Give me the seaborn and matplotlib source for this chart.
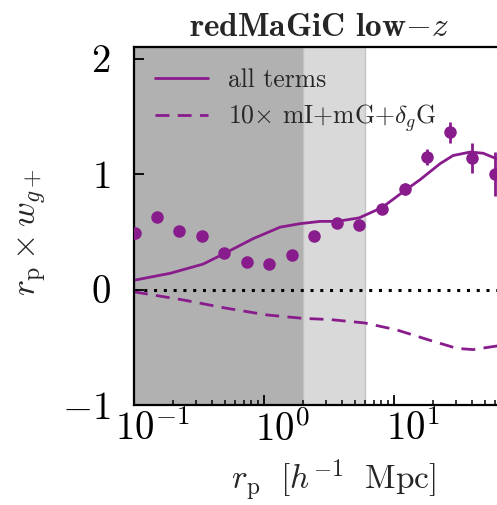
import seaborn as sns
import matplotlib.pyplot as plt
import matplotlib.transforms as mtransforms
import pandas as pd
import numpy as np

# Measured r_p * w_g+ (points with error bars)
rp_data = [0.102, 0.150, 0.222, 0.333, 0.492, 0.740, 1.09, 1.64, 2.42,
           3.64, 5.38, 8.09, 12.2, 17.9, 27.0, 39.8, 59.8]
w_data = [0.49, 0.63, 0.51, 0.46, 0.32, 0.24, 0.22, 0.30, 0.46,
          0.58, 0.56, 0.70, 0.87, 1.15, 1.36, 1.14, 1.00]
w_err = [0.03, 0.03, 0.03, 0.03, 0.03, 0.03, 0.03, 0.03, 0.03,
         0.03, 0.03, 0.04, 0.05, 0.07, 0.09, 0.13, 0.19]

# Model: all terms
rp_model = [0.1, 0.189, 0.34, 0.492, 0.823, 1.33, 1.89, 2.70, 3.64,
            5.38, 8.09, 12.2, 15.8, 22.6, 28.4, 38.4, 48.4, 62.0, 70.0]
w_all = [0.08, 0.14, 0.22, 0.31, 0.44, 0.54, 0.57, 0.59, 0.59,
         0.62, 0.71, 0.86, 0.95, 1.09, 1.16, 1.19, 1.18, 1.13, 1.10]

# Model: 10x (mI + mG + delta_g G)
rp_sys = [0.1, 0.238, 0.501, 1.05, 2.0, 3.22, 5.98, 10.5, 18.9, 30.5, 40.5, 61.0, 70.0]
w_sys = [-0.02, -0.09, -0.16, -0.22, -0.25, -0.26, -0.29, -0.35, -0.44,
         -0.51, -0.52, -0.49, -0.47]

purple = '#881c8c'

sns.set_style("ticks")
plt.rcParams['font.family'] = ['cmr10']
plt.rcParams['mathtext.fontset'] = 'cm'
plt.rcParams['axes.formatter.use_mathtext'] = True

fig = plt.figure(figsize=(4.97, 5.05), dpi=100)
ax = fig.add_axes([0.2696, 0.198, 0.7445, 0.709])

# scale cut regions
ax.axvspan(0.1, 2.0, facecolor='#b1b1b1', edgecolor='#9a9a9a', lw=1, zorder=0)
ax.axvspan(2.0, 6.0, facecolor='#d9d9d9', edgecolor='#c4c4c4', lw=1, zorder=0)

ax.axhline(0, color='black', lw=2.2, linestyle=(0, (1, 2.2)), zorder=1)

sns.lineplot(x=rp_model, y=w_all, ax=ax, color=purple, lw=2,
             label='all terms')
sns.lineplot(x=rp_sys, y=w_sys, ax=ax, color=purple, lw=2,
             linestyle=(0, (5, 3)),
             label=r'10$\times$ mI+mG+$\delta_g$G')

ax.errorbar(rp_data, w_data, yerr=w_err, fmt='o', color=purple,
            ms=8, elinewidth=2, capsize=0, zorder=3)

ax.set_xscale('log')
ax.set_xlim(0.1, 70)
ax.set_ylim(-1, 2.1)
ax.set_yticks([-1, 0, 1, 2])
ax.set_xticks([0.1, 1, 10])
ax.set_xticklabels([r'$10^{-1}$', r'$10^{0}$', r'$10^{1}$'])

ax.tick_params(which='both', direction='in', top=False, right=False,
               labelsize=28, colors='black')
ax.tick_params(which='major', length=7, width=1.3)
ax.tick_params(which='minor', length=3.5, width=1.1)
ax.tick_params(axis='y', pad=17)
ax.tick_params(axis='x', pad=4)

for sp in ax.spines.values():
    sp.set_linewidth(1.6)
    sp.set_color('black')

# nudge x tick labels to the right like the original
shift = mtransforms.ScaledTranslation(0.19, 0, fig.dpi_scale_trans)
for lab in ax.get_xticklabels():
    lab.set_transform(lab.get_transform() + shift)

ax.set_xlabel(r'$r_{\rm p}\ \ [h^{-1}\ \ {\rm Mpc}]$', fontsize=24)
ax.xaxis.set_label_coords(0.539, -0.148)
ax.set_ylabel(r'$r_{\rm p} \times w_{g+}$', fontsize=24.5)
ax.yaxis.set_label_coords(-0.232, 0.483)
ax.set_title(r'redMaGiC low$-z$', fontsize=24, family='cmb10', pad=8)

ax.legend(loc='upper left', frameon=False, fontsize=18.5, handlelength=2.06,
          handletextpad=0.78, borderaxespad=0.42, borderpad=0.4,
          labelspacing=0.4)

fig.savefig('out.png', dpi=100, facecolor='white')
